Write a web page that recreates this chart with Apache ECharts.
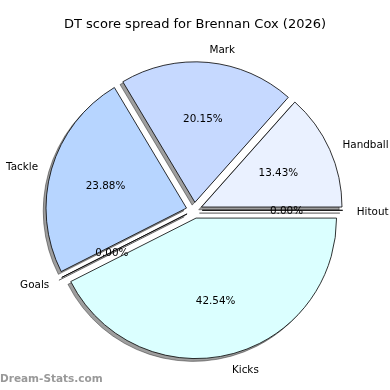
<!DOCTYPE html>
<html><head><meta charset="utf-8">
<script src="https://cdn.jsdelivr.net/npm/echarts@6/dist/echarts.min.js"></script>
<style>html,body{margin:0;padding:0;background:#fff}#c{width:390px;height:390px}</style>
</head><body><div id="c"></div>
<script>
const categories = ['Hitout', 'Handball', 'Mark', 'Tackle', 'Goals', 'Kicks'];
const values = [0, 18, 27, 32, 0, 57];
const colors = ['#f4f8ff', '#eaf1ff', '#c6d9ff', '#b7d5ff', '#c8e6ff', '#dbffff'];
const titleText = 'DT score spread for Brennan Cox (2026)';
const watermark = 'Dream-Stats.com';

const total = values.reduce((a, b) => a + b, 0);
const R = 140.5, D = 8, CX = 194.2, CY = 210.3, SH = 2.8;
const font = 'DejaVu Sans';
const fs = 10.4;

const chart = echarts.init(document.getElementById('c'), null, {renderer: 'canvas'});
const base = {
  type: 'pie', startAngle: 0, clockwise: false, selectedMode: 'multiple', selectedOffset: D,
  avoidLabelOverlap: false, silent: true, emphasis: {disabled: true}, animation: false
};
chart.setOption({
  animation: false,
  backgroundColor: '#fff',
  title: {text: titleText, left: 'center', top: 18, padding: 0,
    textStyle: {fontFamily: font, fontSize: 13, fontWeight: 'normal', color: '#000'}},
  graphic: [{type: 'text', left: 0, top: 374,
    style: {text: watermark, fill: '#999999', font: 'bold 10.5px "DejaVu Sans"'}}],
  series: [
    Object.assign({}, base, {
      center: [CX - SH, CY + SH], radius: [0, R], z: 1,
      itemStyle: {color: 'rgba(0,0,0,0.38)', borderColor: 'rgba(0,0,0,0.38)', borderWidth: 1},
      label: {show: false}, labelLine: {show: false},
      data: categories.map((c, i) => ({name: c, value: values[i], selected: true}))
    }),
    Object.assign({}, base, {
      center: [CX, CY], radius: [0, R], z: 2,
      itemStyle: {borderColor: '#000', borderWidth: 0.8},
      label: {show: false}, labelLine: {show: false},
      data: categories.map((c, i) => ({name: c, value: values[i], selected: true,
        itemStyle: {color: colors[i]}}))
    }),
    Object.assign({}, base, {
      center: [CX, CY + 1.8], radius: [0, R], z: 3,
      itemStyle: {color: 'rgba(0,0,0,0)', borderWidth: 0},
      label: {show: true, position: 'outside', formatter: '{b}', fontFamily: font, fontSize: fs,
        color: '#000', distanceToLabelLine: 0},
      labelLine: {show: false, length: 0.1 * R, length2: 0},
      data: categories.map((c, i) => ({name: c, value: values[i], selected: true}))
    }),
    Object.assign({}, base, {
      center: [CX, CY + 1.3], radius: [0, 1.2 * R - 6], z: 3,
      itemStyle: {color: 'rgba(0,0,0,0)', borderWidth: 0},
      label: {show: true, position: 'inside', fontFamily: font, fontSize: fs, color: '#000',
        formatter: p => (p.value / total * 100).toFixed(2) + '%'},
      labelLine: {show: false},
      data: categories.map((c, i) => ({name: c, value: values[i], selected: true}))
    })
  ]
});
</script></body></html>
